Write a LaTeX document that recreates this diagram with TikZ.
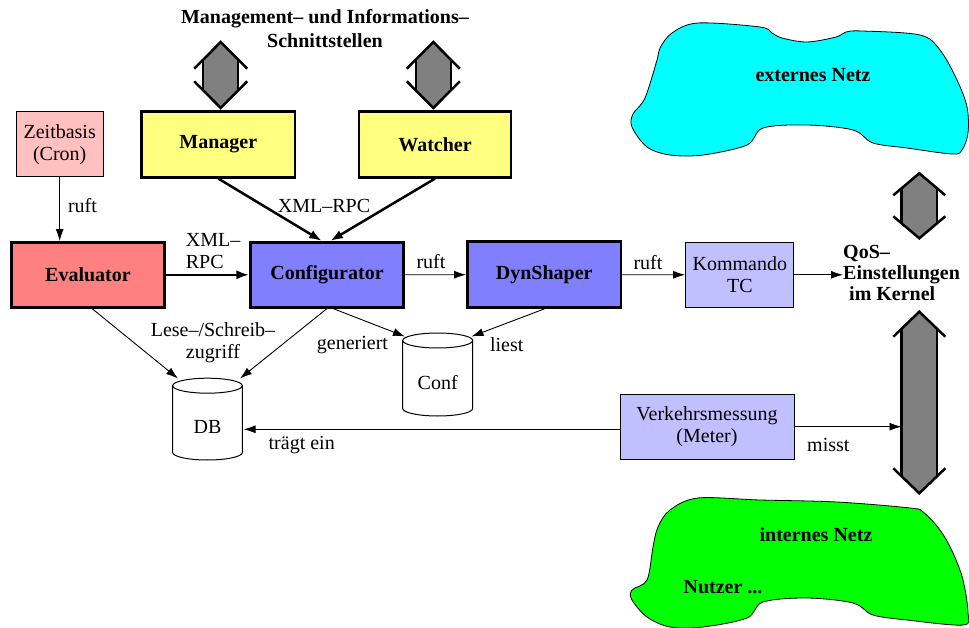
\documentclass[tikz,border=0pt]{standalone}
\usepackage{fontspec}
\setmainfont{Liberation Serif}
\usetikzlibrary{arrows.meta}
\definecolor{boxyellow}{RGB}{255,255,128}
\definecolor{boxred}{RGB}{255,128,128}
\definecolor{boxpink}{RGB}{255,192,192}
\definecolor{boxblue}{RGB}{128,128,255}
\definecolor{boxlblue}{RGB}{192,192,255}
\definecolor{arrgray}{RGB}{128,128,128}
\definecolor{extcyan}{RGB}{0,255,255}
\definecolor{intgreen}{RGB}{0,255,0}
\newcommand\dblarr[7]{% cx, ytop, ybot, head h, wing w, shaft s, name
  \pgfmathsetmacro\dy{#4*#6/#5}
  \fill[arrgray] (#1,#2) -- ({#1+#6},{#2+\dy}) -- ({#1+#6},{#3-\dy}) -- (#1,#3)
     -- ({#1-#6},{#3-\dy}) -- ({#1-#6},{#2+\dy}) -- cycle;
  \draw[dblline] ({#1-#5},{#2+#4}) -- (#1,#2) -- ({#1+#5},{#2+#4});
  \draw[dblline] ({#1-#5},{#3-#4}) -- (#1,#3) -- ({#1+#5},{#3-#4});
  \draw[dblline] ({#1-#6},{#2+\dy}) -- ({#1-#6},{#3-\dy});
  \draw[dblline] ({#1+#6},{#2+\dy}) -- ({#1+#6},{#3-\dy});
}
\begin{document}
\begin{tikzpicture}[x=1pt,y=-1pt,
  every node/.style={font=\fontsize{20pt}{22pt}\selectfont, inner sep=0pt},
  thickbox/.style={draw=black, line width=2.5pt, align=center, font=\fontsize{20pt}{22pt}\selectfont\bfseries},
  thinbox/.style={draw=black, line width=1pt, align=center},
  conn/.style={draw=black, line width=0.9pt, -{Latex[length=12pt,width=8pt]}},
  thickconn/.style={draw=black, line width=2.5pt, -{Latex[length=13pt,width=9pt]}},
  lbl/.style={align=center},
  dblline/.style={draw=black, line width=2.5pt, line join=miter},
  cyl/.style={draw=black, line width=1pt},
  cloud/.style={draw=black, line width=0.8pt}]
\useasboundingbox (0,0) rectangle (969,628);

% clouds
\draw[cloud, fill=extcyan] plot[smooth cycle, tension=0.55] coordinates {
 (633,114) (645,98) (657,60) (660,48) (672,33) (698,23) (760,27) (772,33) (782,38)
 (807,42) (836,37) (846,32) (862,31) (920,35) (940,50) (957,80) (967,107) (968,133)
 (962,150) (952,154) (907,148) (873,143) (853,130) (807,125) (763,128) (747,145)
 (703,155) (670,155) (647,147) (632,127)};
\node[font=\fontsize{20pt}{22pt}\selectfont\bfseries] (ext) at (813,75) {externes Netz};

\draw[cloud, fill=intgreen] plot[smooth cycle, tension=0.55] coordinates {
 (632,590) (647,580) (653,547) (658,527) (670,510) (698,498) (760,500) (837,502)
 (910,508) (923,512) (940,530) (953,553) (963,580) (968,613) (963,625) (907,620)
 (873,615) (853,603) (807,598) (763,602) (747,618) (703,627) (670,627) (647,617) (632,600)};
\node[font=\fontsize{20pt}{22pt}\selectfont\bfseries] (int) at (816,535) {internes Netz};
\node[font=\fontsize{20pt}{22pt}\selectfont\bfseries] (nutzer) at (723,587) {Nutzer ...};

% double arrows
\dblarr{220.7}{42}{108}{26.7}{26.5}{17.5}{a}
\dblarr{433.3}{42}{108}{26.7}{26.5}{17.5}{b}
\dblarr{919.3}{173.3}{238.3}{22}{26}{17.8}{c}
\dblarr{919.3}{311.7}{493.3}{25}{26}{17.8}{d}

% title
\node[align=center, font=\fontsize{20pt}{24pt}\selectfont\bfseries] (title) at (325,29)
  {Management– und Informations–\\Schnittstellen};

% boxes
\node[thinbox, fill=boxpink, minimum width=87.3pt, minimum height=65pt] (zeit) at (59.7,144.2) {Zeitbasis\\(Cron)};
\node[thickbox, fill=boxyellow, minimum width=153.3pt, minimum height=65.7pt] (manager) at (218.3,144.5) {Manager};
\node[thickbox, fill=boxyellow, minimum width=152pt, minimum height=65.7pt] (watcher) at (435,144.5) {Watcher};
\node[thickbox, fill=boxred, minimum width=152.6pt, minimum height=65pt] (eval) at (88,274.8) {Evaluator};
\node[thickbox, fill=boxblue, minimum width=152.6pt, minimum height=65pt] (config) at (327,274.8) {Configurator};
\node[thickbox, fill=boxblue, minimum width=153.7pt, minimum height=66pt] (dyn) at (544.2,274.7) {DynShaper};
\node[thinbox, fill=boxlblue, minimum width=108.3pt, minimum height=65pt] (kom) at (739.8,274.8) {Kommando\\TC};
\node[thinbox, fill=boxlblue, minimum width=174pt, minimum height=65.3pt] (verk) at (707,426.7) {Verkehrsmessung\\(Meter)};
\node[align=left, anchor=west, font=\fontsize{20pt}{21pt}\selectfont\bfseries] (qos) at (843,273)
  {QoS–\\Einstellungen\\\hspace*{6pt}im Kernel};

% cylinders
\draw[cyl] (172.7,385.7) -- (172.7,452.5) arc[start angle=180, end angle=0, x radius=34.8, y radius=7.5] -- (242.3,385.7);
\draw[cyl] (207.5,385.7) ellipse [x radius=34.8, y radius=7.5];
\node (db) at (207.5,427) {DB};
\coordinate (dbl) at (178,378.5);
\coordinate (dbr) at (240,378.5);
\coordinate (dbe) at (243.5,429.3);

\draw[cyl] (402.7,340.5) -- (402.7,408.5) arc[start angle=180, end angle=0, x radius=35, y radius=7.5] -- (472.7,340.5);
\draw[cyl] (437.7,340.5) ellipse [x radius=35, y radius=7.5];
\node (conf) at (437.7,383) {Conf};
\coordinate (confl) at (405,336.5);
\coordinate (confr) at (471.5,336.5);

\coordinate (kern) at (901.5,426.7);

% connectors
\draw[conn] (zeit.south) -- (zeit.south |- eval.north);
\node[lbl] (l1) at (82.5,206) {ruft};

\draw[thickconn] (manager.south) -- ([xshift=-5pt]config.north);
\draw[thickconn] (watcher.south) -- ([xshift=3pt]config.north);
\node[lbl] (l2) at (324,206) {XML–RPC};

\draw[thickconn] (eval.east) -- (config.west);
\node[align=left, anchor=west] (l3) at (185.7,251) {XML–\\RPC};

\draw[conn] (config.east) -- (dyn.west);
\node[lbl] (l4) at (431,262) {ruft};

\draw[conn] (dyn.east) -- (kom.west);
\node[lbl] (l5) at (648,263) {ruft};

\draw[conn] (kom.east) -- (qos.west |- kom.east);

\draw[conn] ([xshift=4pt]eval.south) -- (dbl);
\draw[conn] (config.south) -- (dbr);
\node[lbl] (l6) at (213,342.5) {Lese–/Schreib–\\zugriff};

\draw[conn] ([xshift=6pt]config.south) -- (confl);
\node[lbl] (l7) at (352.5,345) {generiert};

\draw[conn] (dyn.south) -- (confr);
\node[lbl] (l8) at (506.7,345) {liest};

\draw[conn] ([yshift=-2.6pt]verk.west) -- (dbe);
\node[lbl] (l9) at (301.7,445) {trägt ein};

\draw[conn] (verk.east) -- (kern);
\node[lbl] (l10) at (828.3,445) {misst};
\end{tikzpicture}
\end{document}
